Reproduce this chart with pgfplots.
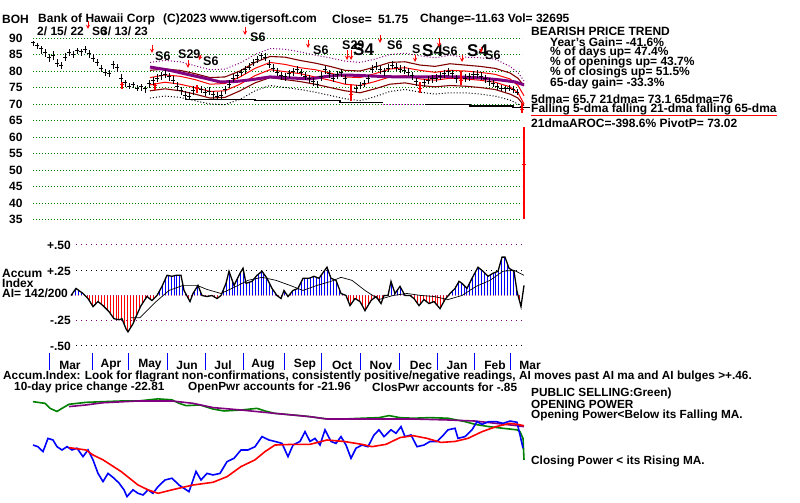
\documentclass[border=0pt]{standalone}
\usepackage{fontspec}
\setmainfont{Liberation Sans}
\usepackage{pgfplots}
\usepackage{pgfplotstable}
\pgfplotsset{compat=1.18}
\usetikzlibrary{patterns.meta}

\definecolor{tsgreen}{RGB}{0,128,0}
\definecolor{tspurple}{RGB}{128,0,128}
\definecolor{tsmaroon}{RGB}{128,0,0}
\definecolor{tsblue}{RGB}{0,0,255}
\definecolor{tsred}{RGB}{255,0,0}
\definecolor{tsmagenta}{RGB}{255,0,255}

% price bars: x(px) close low high
\pgfplotstableread{
x c l h
33 88.5 87.6 89.2
37 87.6 86.8 88.4
41 86.8 85.0 87.6
45 85.6 84.2 86.8
49 84.0 82.6 85.2
53 84.8 83.4 86.0
57 82.4 81.2 83.6
61 81.6 80.6 82.6
65 84.2 83.0 85.4
69 85.6 84.4 86.6
73 85.0 84.0 86.2
77 86.2 85.2 87.0
81 85.8 84.6 86.8
85 86.6 85.6 87.6
89 85.2 84.0 86.4
93 83.8 82.6 85.0
97 82.6 81.4 83.6
101 80.8 79.6 81.8
105 79.6 78.4 80.6
109 79.2 78.2 80.4
113 82.0 80.6 83.0
117 81.0 79.8 82.2
121 77.8 76.6 79.0
125 76.4 75.2 77.4
129 75.4 74.4 76.4
133 75.8 74.8 76.8
137 74.8 73.8 75.8
141 75.2 74.0 76.2
145 74.6 73.4 75.6
149 76.2 74.8 77.4
153 77.0 75.6 78.2
157 77.8 76.6 79.0
161 78.6 77.4 79.6
165 79.0 78.0 80.2
169 78.2 77.0 79.4
173 77.2 76.0 78.4
177 75.4 74.0 76.6
181 74.0 72.8 75.2
185 72.6 71.4 74.0
189 72.2 71.2 73.6
193 74.2 72.8 75.4
201 74.4 73.2 75.6
205 73.6 72.4 74.8
209 73.8 72.8 75.0
213 72.8 71.6 74.0
217 72.4 71.4 73.6
221 72.6 71.2 73.8
225 74.4 73.0 75.6
229 76.0 74.8 77.2
233 77.8 76.6 79.0
237 78.6 77.6 79.8
241 79.6 78.6 80.6
245 80.4 79.2 81.4
249 81.2 80.2 82.4
253 82.6 81.4 83.6
257 83.4 82.4 84.6
261 84.6 83.4 85.6
265 84.2 83.0 85.4
269 82.0 80.8 83.2
273 80.8 79.6 82.0
277 79.6 78.4 80.8
281 78.6 77.4 79.8
285 78.2 77.0 79.4
289 79.2 78.0 80.4
293 79.8 78.6 81.0
297 80.6 79.4 81.6
301 79.4 78.4 80.6
305 78.4 77.2 79.6
309 77.6 76.4 78.8
313 76.8 75.6 78.0
317 75.8 74.8 77.0
321 78.2 77.0 79.6
325 80.4 79.2 81.6
329 79.2 78.0 80.4
333 77.8 76.6 79.0
337 78.8 77.6 80.0
341 79.4 78.2 80.6
345 77.6 76.2 78.8
356 74.6 73.4 75.8
360 75.6 74.4 76.8
364 76.2 75.0 77.4
368 77.6 76.4 78.8
372 80.6 79.4 81.8
376 81.4 80.2 82.6
380 80.4 79.2 81.6
384 79.8 78.6 81.0
388 80.8 79.6 82.0
392 81.8 80.6 83.0
396 81.2 80.0 82.4
400 80.6 79.4 81.8
404 80.2 79.0 81.4
408 79.6 78.4 80.8
412 78.6 77.4 79.8
416 76.8 75.6 78.0
424 76.4 75.2 77.6
428 77.2 76.0 78.4
432 77.6 76.4 78.8
436 77.8 76.8 79.0
440 78.4 77.2 79.6
444 79.2 78.0 80.4
448 79.8 78.6 81.0
452 79.2 78.0 80.4
456 77.6 76.4 78.8
465 77.8 76.6 79.0
469 78.2 77.0 79.4
473 78.8 77.6 80.0
477 79.0 77.8 80.2
481 78.4 77.2 79.6
485 77.6 76.4 78.8
489 76.8 75.6 78.0
493 76.2 75.0 77.4
497 75.2 74.2 76.4
501 74.8 73.8 75.8
505 74.6 73.6 75.6
509 74.8 73.8 75.8
513 74.4 73.4 75.4
517 73.6 72.6 74.6
}\bars

\pgfplotstableread{
x c l h
122 76.0 74.6 76.8
155 75.6 74.2 76.4
197 74.6 73.4 75.8
351 73.0 70.8 76.0
420 74.8 73.4 76.8
461 77.2 75.8 80.0
522 68.4 67.4 70.4
524 51.75 35.2 63.0
}\redbars

% bands: purple dotted, maroon up, red up, red (21-dma), maroon low, black dotted
\pgfplotstableread{
x pd mu ru rl ml bd
150 82.6 80.2 78.0 75.8 74.0 71.8
165 83.2 80.6 78.8 76.6 74.6 72.4
180 82.8 80.2 78.4 76.0 74.0 72.0
195 81.6 79.2 77.4 75.0 73.0 71.0
210 80.4 78.0 76.0 73.8 71.8 70.0
225 80.6 78.2 76.2 74.0 72.0 69.8
240 82.4 80.0 78.2 76.0 74.0 71.4
255 85.0 82.6 80.8 78.6 76.4 74.0
270 86.8 84.4 82.6 80.4 78.0 75.6
285 86.6 84.2 82.0 79.8 77.4 75.0
300 85.8 83.2 81.0 79.2 76.8 74.4
315 84.8 82.4 80.4 78.2 76.0 73.6
330 84.0 81.4 79.4 77.2 75.0 72.6
345 83.0 80.2 78.2 76.0 74.0 71.6
360 82.6 80.0 78.0 75.6 73.4 71.0
375 83.6 81.2 79.2 76.8 74.6 72.2
390 85.0 82.6 80.6 78.2 76.0 73.8
405 85.4 82.8 81.0 78.6 76.4 74.4
420 84.6 81.8 80.2 77.6 75.6 73.6
435 84.0 81.4 79.6 77.2 75.2 73.0
450 84.8 82.2 80.2 77.8 75.6 73.4
465 84.2 81.8 80.0 77.6 75.4 73.4
480 84.0 81.4 79.6 77.2 75.0 73.0
495 83.6 80.8 79.0 76.6 74.4 72.4
510 81.4 79.4 77.6 75.2 73.0 71.2
518 79.5 77.8 75.6 73.4 71.8 70.0
524 77.0 75.5 72.5 70.0 69.5 68.0
}\bands

% accumulation index
\pgfplotstableread{
x v
71 0.00
76 0.07
83 0.02
88 -0.03
93 -0.11
98 -0.06
103 -0.10
109 -0.16
114 -0.23
119 -0.24
122 -0.23
126 -0.33
128 -0.36
133 -0.28
136 -0.21
141 -0.10
147 -0.01
152 -0.05
157 0.00
162 0.09
167 0.20
172 0.19
176 0.20
181 0.20
184 0.05
190 -0.06
193 0.02
198 0.10
202 0.00
207 -0.01
212 0.00
217 -0.03
221 0.00
226 0.12
229 0.24
234 0.10
240 0.22
243 0.27
246 0.12
252 0.14
257 0.20
262 0.24
267 0.17
272 0.07
277 0.00
281 -0.03
284 0.05
288 -0.01
293 0.05
298 0.07
303 0.17
309 0.17
314 0.19
319 0.17
324 0.24
327 0.28
331 0.17
336 0.15
341 0.02
346 0.00
350 -0.10
355 -0.03
360 -0.06
365 -0.15
371 -0.05
376 -0.01
381 -0.08
384 0.00
388 0.00
391 0.14
395 0.02
400 0.09
405 0.00
410 0.00
414 -0.03
419 -0.10
424 -0.04
429 -0.08
434 -0.06
440 -0.13
445 -0.04
450 0.02
455 0.07
459 0.14
462 0.12
467 0.07
472 0.17
478 0.28
483 0.24
488 0.19
493 0.22
498 0.24
502 0.38
505 0.38
509 0.27
514 0.24
517 0.04
521 -0.11
524 0.10
}\aidata

\tikzset{lbl/.style={anchor=west, inner sep=0pt, font=\bfseries\fontsize{12}{13}\selectfont},
  sig/.style={anchor=west, inner sep=0pt, font=\bfseries\fontsize{12.5}{13}\selectfont},
  bigsig/.style={anchor=west, inner sep=0pt, font=\bfseries\fontsize{17}{17}\selectfont},
  sml/.style={anchor=west, inner sep=0pt, font=\bfseries\fontsize{11.8}{12}\selectfont},
  arr/.style={tsred, line width=0.9pt, ->, >=stealth}}

\pgfplotsset{tsaxis/.style={scale only axis, width=500pt, xmin=30, xmax=530,
  axis line style={draw=none}, tick style={draw=none}, xtick=\empty,
  clip=false, anchor=south west},
  aiaxis/.style={tsaxis, at={(30pt,157pt)}, height=101pt, ymin=-0.5, ymax=0.5, ytick=\empty}}

\begin{document}
\begin{tikzpicture}[x=1pt,y=1pt]
\path[use as bounding box] (0,0) rectangle (800,503);

% ---------------- price panel
\begin{axis}[tsaxis, at={(30pt,283.5pt)}, height=181.5pt, ymin=35, ymax=90,
  ytick={35,40,45,50,55,60,65,70,75,80,85,90},
  /pgf/number format/assume math mode=true,
  yticklabel style={font=\bfseries\fontsize{12}{12}\selectfont, xshift=-4pt}]
\pgfplotsinvokeforeach{35,40,45,50,55,60,65,70,75,80,85,90}{
  \draw[tsgreen, line width=0.9pt, dash pattern=on 0.9pt off 2.1pt] (axis cs:33,#1) -- (axis cs:522,#1);}
\addplot[tspurple, line width=1pt, dash pattern=on 1pt off 2pt] table[x=x,y=pd] {\bands};
\addplot[tsmaroon, line width=1.1pt] table[x=x,y=mu] {\bands};
\addplot[tsred, line width=1pt] table[x=x,y=ru] {\bands};
\addplot[tsred, line width=1pt] table[x=x,y=rl] {\bands};
\addplot[tsmaroon, line width=1.1pt] table[x=x,y=ml] {\bands};
\addplot[black, line width=1pt, dash pattern=on 1pt off 2pt] table[x=x,y=bd] {\bands};
% support line
\addplot[black, line width=1.1pt, const plot] coordinates {(185,71.4) (255,71.1) (340,70.4) (383,70.4)};
\addplot[tsmagenta, line width=1pt, dash pattern=on 1pt off 2pt] coordinates {(383,69.9) (425,69.9)};
\addplot[black, line width=1.1pt, const plot] coordinates {(425,69.9) (470,69.4) (513,69.0) (530,69.0)};
% 65-dma
\addplot[tspurple, line width=3pt] coordinates {
(150,81.2) (170,80.2) (190,78.8) (205,77.8) (220,76.7) (235,76.8) (250,77.3)
(270,78.2) (290,77.9) (310,77.6) (325,78.3) (340,78.8) (355,78.7) (370,78.5)
(385,78.3) (400,78.2) (420,78.2) (440,78.3) (460,78.2) (480,77.9) (500,77.3)
(515,76.7) (524,75.8)};
% daily bars
\addplot[black, only marks, mark=-, mark size=1.6pt, mark options={line width=1pt},
  error bars/.cd, y dir=both, y explicit, error mark=none,
  error bar style={black, line width=1pt}]
  table[x=x, y=c, y error plus expr=\thisrow{h}-\thisrow{c},
        y error minus expr=\thisrow{c}-\thisrow{l}] {\bars};
\addplot[tsred, only marks, mark=-, mark size=1.6pt, mark options={line width=1pt},
  error bars/.cd, y dir=both, y explicit, error mark=none,
  error bar style={tsred, line width=1.2pt}]
  table[x=x, y=c, y error plus expr=\thisrow{h}-\thisrow{c},
        y error minus expr=\thisrow{c}-\thisrow{l}] {\redbars};
\end{axis}

% ---------------- accumulation index panel
\begin{scope}
\clip (30,207.5) rectangle (530,262);
\begin{axis}[aiaxis]
\addplot[draw=none, pattern={Lines[angle=90, distance=2.9pt, line width=1pt]}, pattern color=tsblue]
  table[x=x,y=v] {\aidata} \closedcycle;
\end{axis}
\end{scope}
\begin{scope}
\clip (30,150) rectangle (530,207.5);
\begin{axis}[aiaxis]
\addplot[draw=none, pattern={Lines[angle=90, distance=2.9pt, line width=1pt]}, pattern color=tsred]
  table[x=x,y=v] {\aidata} \closedcycle;
\end{axis}
\end{scope}
\begin{axis}[aiaxis]
\draw[tspurple, line width=1pt, dash pattern=on 1pt off 4pt] (axis cs:76,0.5) -- (axis cs:522,0.5);
\draw[black, line width=1pt, dash pattern=on 1pt off 4pt] (axis cs:76,0.25) -- (axis cs:522,0.25);
\draw[tspurple, line width=1pt, dash pattern=on 1pt off 4pt] (axis cs:76,-0.25) -- (axis cs:522,-0.25);
\draw[black, line width=1pt, dash pattern=on 1pt off 4pt] (axis cs:76,-0.5) -- (axis cs:522,-0.5);
\addplot[black, line width=1.3pt] table[x=x,y=v] {\aidata};
% AI moving average
\addplot[black, line width=0.7pt] coordinates {
(131,-0.22) (140,-0.22) (155,-0.07) (169,0.05) (183,0.10) (197,0.10) (207,0.06)
(221,0.02) (234,0.08) (248,0.15) (262,0.18) (276,0.15) (290,0.10) (303,0.05)
(317,0.10) (331,0.14) (341,0.18) (352,0.15) (365,0.05) (379,-0.04) (393,0.00)
(407,0.02) (421,0.00) (434,-0.01) (448,-0.04) (462,0.00) (476,0.09) (490,0.15)
(503,0.24) (514,0.25) (524,0.20)};
\end{axis}

% ---------------- opening / closing power panel
\begin{axis}[tsaxis, at={(30pt,0pt)}, height=108pt, ymin=395, ymax=506.6, y dir=reverse, ytick=\empty]
\addplot[tsgreen, line width=1.6pt] coordinates {
(33,401.9) (45,403.6) (50,408.8) (57,412.0) (62,408.8) (69,404.6) (86,402.6)
(103,401.9) (121,401.2) (138,401.2) (158,399.0) (172,400.0) (179,403.6)
(186,406.0) (200,405.3) (213,409.5) (224,411.5) (241,410.5) (257,408.8)
(265,411.5) (275,414.0) (286,415.0) (300,416.3) (310,417.4) (327,419.8)
(344,419.8) (362,419.0) (379,418.4) (389,416.3) (400,418.4) (413,419.0)
(430,418.4) (448,419.0) (465,422.5) (475,425.3) (489,427.7) (503,429.4)
(517,431.0) (520,432.9) (523,439.8) (524,462.0)};
\addplot[tspurple, line width=1.6pt] coordinates {
(69,407.0) (86,405.3) (103,403.0) (138,401.2) (172,401.2) (193,403.6)
(213,408.0) (241,410.5) (275,414.0) (310,417.4) (327,419.8) (379,419.8)
(413,419.8) (448,420.8) (475,421.9) (496,424.3) (517,426.7) (524,427.7)};
\addplot[tsblue, line width=1.6pt] coordinates {
(33,446.7) (38,448.4) (43,453.5) (48,439.8) (53,441.5) (57,448.4) (62,451.8)
(67,448.4) (72,451.8) (77,450.0) (83,458.7) (88,451.8) (93,462.0) (98,476.0)
(103,484.5) (108,476.0) (114,481.0) (119,486.0) (124,493.0) (127,500.0)
(133,493.0) (138,496.6) (143,498.3) (148,493.0) (153,496.6) (158,489.7)
(165,482.8) (172,481.0) (179,488.0) (184,491.4) (189,494.9) (196,474.0)
(201,482.8) (207,476.0) (213,477.6) (220,476.0) (227,463.9) (234,460.4)
(241,451.8) (248,451.8) (255,448.4) (262,438.0) (269,441.5) (275,443.0)
(282,445.0) (288,458.7) (293,446.7) (300,443.0) (305,432.9) (310,443.0)
(315,439.8) (320,446.7) (325,431.0) (331,443.0) (336,445.0) (341,438.0)
(346,446.7) (351,460.4) (356,450.0) (362,446.7) (368,448.4) (374,436.3)
(379,431.0) (384,438.0) (391,431.0) (396,434.6) (401,427.7) (405,438.0)
(411,436.3) (417,448.4) (424,446.7) (430,443.0) (437,443.0) (442,438.0)
(448,431.0) (455,429.4) (458,439.8) (465,438.0) (472,431.0) (477,422.5)
(482,425.3) (489,422.5) (496,422.5) (503,424.3) (510,421.9) (517,423.2)
(520,436.3) (523,450.0)};
\addplot[tsred, line width=1.6pt] coordinates {
(69,449.4) (86,451.8) (93,457.0) (103,462.0) (121,474.0) (138,488.0)
(148,493.0) (158,496.6) (172,493.0) (193,488.0) (213,485.2) (227,479.4)
(241,469.0) (255,462.0) (265,453.5) (275,446.7) (293,446.0) (310,446.0)
(327,441.5) (344,443.0) (362,446.0) (372,448.4) (386,446.0) (400,439.0)
(413,437.0) (427,439.8) (441,444.0) (455,443.0) (468,439.8) (482,432.9)
(496,427.7) (510,424.3) (517,425.3) (524,426.7)};
\end{axis}

% ---------------- texts
\node[lbl] at (2,483.5) {BOH};
\node[lbl] at (38,483.5) {Bank of Hawaii Corp};
\node[lbl] at (163,483.5) {(C)2023 www.tigersoft.com};
\node[lbl] at (332,483.5) {Close=};
\node[lbl] at (378,483.5) {51.75};
\node[lbl] at (420,483.5) {Change=-11.63 Vol= 32695};
\node[lbl] at (37,472) {2/ 15/ 22};
\node[lbl] at (92,472) {S6};
\node[lbl] at (101,472) {3/ 13/ 23};

\node[lbl] at (531,472) {BEARISH PRICE TREND};
\node[lbl] at (550,461) {Year's Gain= -41.6\%};
\node[lbl] at (550,450.5) {\% of days up= 47.4\%};
\node[lbl] at (550,440.5) {\% of openings up= 43.7\%};
\node[lbl] at (550,430.5) {\% of closings up= 51.5\%};
\node[lbl] at (550,420) {65-day gain= -33.3\%};
\node[lbl] at (531,404) {5dma= 65.7 21dma= 73.1 65dma=76};
\node[lbl] at (531,393.5) {Falling 5-dma falling 21-dma falling 65-dma};
\draw[tsred, line width=1pt] (531,387.5) -- (777,387.5);
\node[lbl] at (531,380) {21dmaAROC=-398.6\%  PivotP= 73.02};

% signals
\draw[arr] (88,482) -- (88,474);
\draw[arr] (245,476) -- (245,468);
\node[sig] at (250,466) {S6};
\draw[arr] (152,458) -- (152,450);
\node[sig] at (155,447) {S6};
\node[sig] at (178,449) {S29};
\draw[arr] (188,443) -- (188,435);
\draw[arr] (201,448) -- (199,443);
\node[sig] at (203,441.5) {S6};
\draw[arr] (308,463) -- (308,455);
\node[sig] at (313,452.5) {S6};
\node[sig] at (342,458) {S29};
\draw[arr] (347,453) -- (347,443);
\draw[arr] (351,453) -- (351,443);
\node[bigsig] at (353,453) {S4};
\draw[arr] (380,468) -- (380,460);
\node[sig] at (387,458) {S6};
\node[sig] at (412,454) {S};
\draw[arr] (415,448) -- (415,441);
\node[bigsig] at (422,452.5) {S4};
\draw[arr] (439,465) -- (439,456);
\node[sig] at (442,452) {S6};
\draw[arr] (462,448) -- (462,441);
\node[bigsig] at (467,452) {S4};
\draw[arr] (481,456) -- (481,450);
\node[sig] at (485,448) {S6};

% accumulation labels
\node[lbl] at (2,230) {Accum};
\node[lbl] at (2,220) {Index};
\node[lbl] at (2,210) {AI= 142/200};
\node[lbl, anchor=east] at (71,258) {+.50};
\node[lbl, anchor=east] at (71,231.5) {+.25};
\node[lbl, anchor=east] at (71,183) {-.25};
\node[lbl, anchor=east] at (71,157) {-.50};

% months
\foreach \mx in {49,92,128,167,205,243,284,321,360,399,437,474,510}
  \draw[tsblue, line width=1pt] (\mx,150) -- (\mx,133);
\foreach \mx/\mn in {70/Mar,111/Apr,150/May,187/Jun,223/Jul,263/Aug,305/Sep,342/Oct,381/Nov,421/Dec,457/Jan,495/Feb,530/Mar}
  \node[lbl, anchor=center] at (\mx,138) {\mn};

\node[sml] at (3,127) {Accum.Index: Look for flagrant non-confirmations, consistently positive/negative readings, AI moves past AI ma and AI bulges >+.46.};
\node[sml] at (14,116) {10-day price change -22.81};
\node[sml] at (188,116) {OpenPwr accounts for -21.96};
\node[sml] at (372,116) {ClosPwr accounts for -.85};

\node[sml] at (531,109.5) {PUBLIC SELLING:Green)};
\node[sml] at (531,99) {OPENING POWER};
\node[sml] at (531,88) {Opening Power<Below its Falling MA.};
\node[sml] at (531,42) {Closing Power < its Rising MA.};
\end{tikzpicture}
\end{document}
